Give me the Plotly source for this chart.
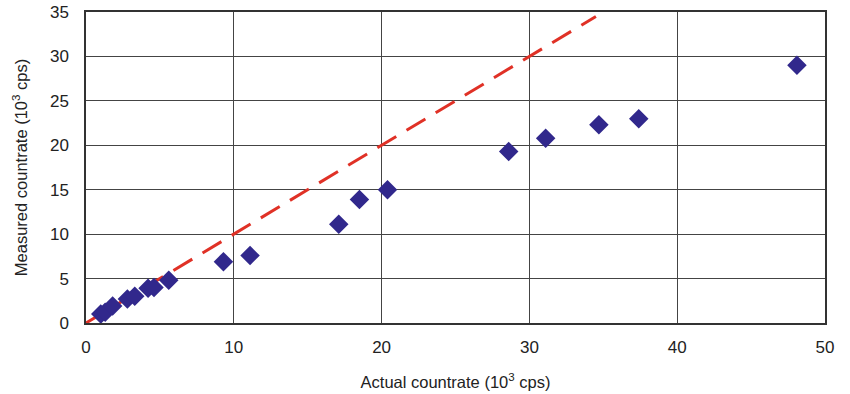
import plotly.graph_objects as go

actual = [1.0, 1.3, 1.8, 2.8, 3.3, 4.2, 4.6, 5.6, 9.3, 11.1, 17.1, 18.5, 20.4, 28.6, 31.1, 34.7, 37.4, 48.1]
measured = [1.0, 1.2, 1.9, 2.7, 3.0, 3.9, 4.0, 4.8, 6.9, 7.6, 11.1, 13.9, 15.0, 19.3, 20.8, 22.3, 23.0, 29.0]
ideal_x = [0, 34.5]
ideal_y = [0, 34.5]

fig = go.Figure()
fig.add_trace(go.Scatter(x=ideal_x, y=ideal_y, mode="lines",
                         line=dict(color="#E03126", width=3, dash="22px,12px"),
                         showlegend=False, hoverinfo="skip"))
fig.add_trace(go.Scatter(x=actual, y=measured, mode="markers",
                         marker=dict(symbol="diamond", size=15, color="#31288C"),
                         showlegend=False))

font = "Liberation Sans, Arial"
axis_common = dict(showgrid=True, gridcolor="#444", gridwidth=1,
                   showline=True, linecolor="#333", linewidth=1.5, mirror=True,
                   zeroline=False, ticks="", automargin=False,
                   tickfont=dict(family=font, size=17, color="#222"),
                   title_font=dict(family=font, size=16.5, color="#222"))

fig.update_xaxes(range=[0, 50], tickvals=[0, 10, 20, 30, 40, 50], ticklabelstandoff=8,
                 title_text="Actual countrate (10<sup>3</sup> cps)", title_standoff=20, **axis_common)
fig.update_yaxes(range=[0, 35], tickvals=[0, 5, 10, 15, 20, 25, 30, 35], ticklabelstandoff=12,
                 title_text="Measured countrate (10<sup>3</sup> cps)", title_standoff=18, **axis_common)

fig.update_layout(width=850, height=394, margin=dict(l=86, r=25, t=12, b=71),
                  plot_bgcolor="white", paper_bgcolor="white")
fig.write_html("out.html")
